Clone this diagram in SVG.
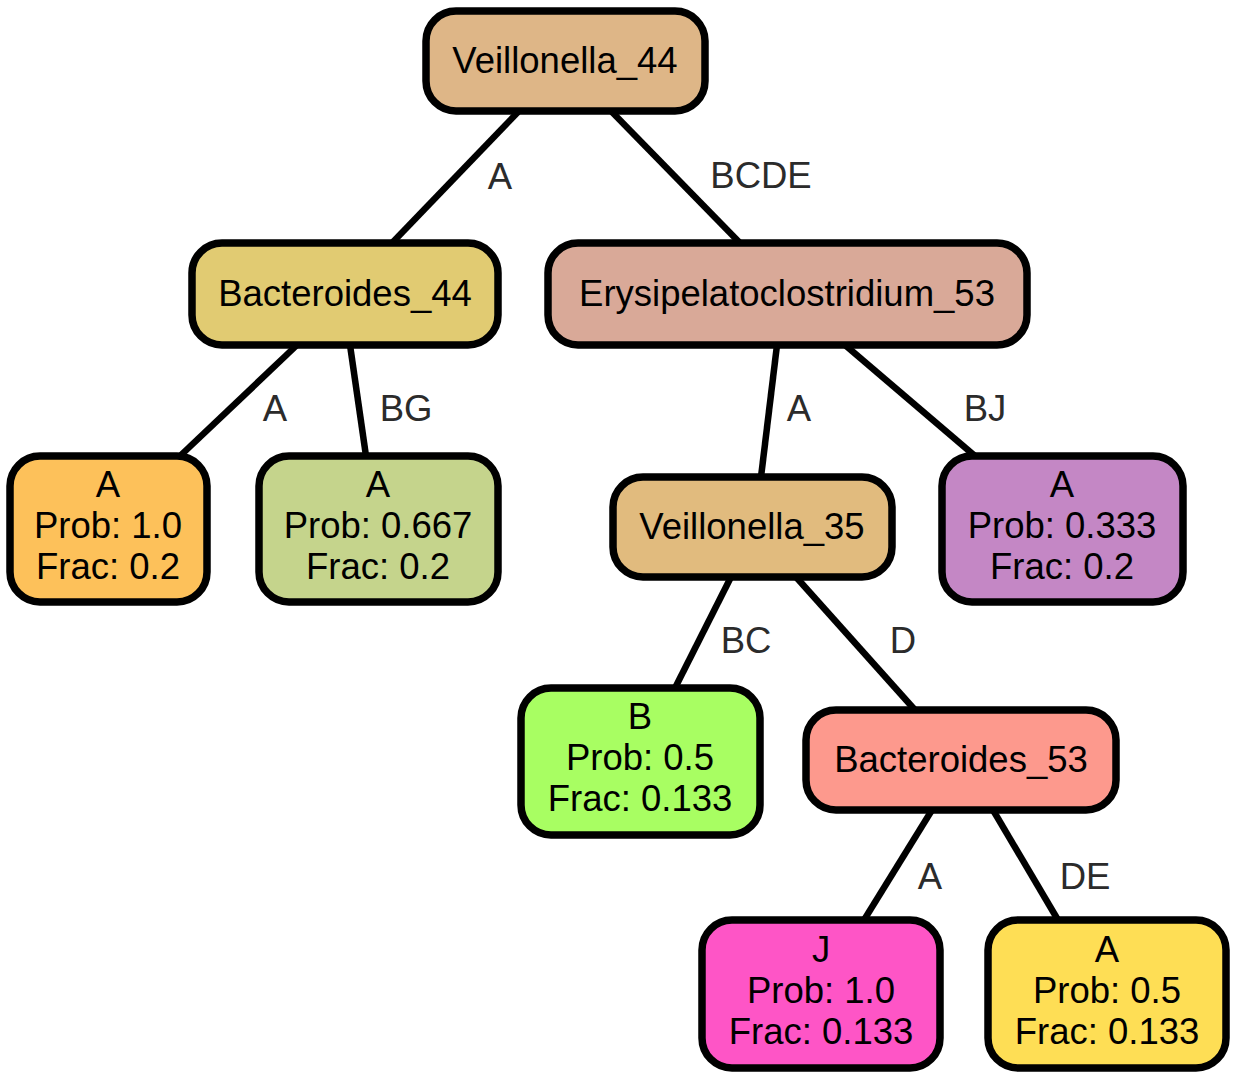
<svg xmlns="http://www.w3.org/2000/svg" width="1236" height="1079" viewBox="0 0 1236 1079">
<style>
.n{stroke:#000;stroke-width:7.5}
.t{font-family:"Liberation Sans",Arial,sans-serif;font-size:36.5px;text-anchor:middle;fill:#000}
.e{stroke:#000;stroke-width:6.5;fill:none}
.l{font-family:"Liberation Sans",Arial,sans-serif;font-size:36.5px;text-anchor:middle;fill:#2b2b2b}
</style>
<rect width="1236" height="1079" fill="#fff"/>
<g id="edges">
<line class="e" x1="518" y1="112" x2="392" y2="243"/>
<text class="l" x="500" y="189">A</text>
<line class="e" x1="612" y1="112" x2="740" y2="243"/>
<text class="l" x="761" y="188">BCDE</text>
<line class="e" x1="297" y1="345" x2="180" y2="456"/>
<text class="l" x="275" y="421">A</text>
<line class="e" x1="350" y1="345" x2="366" y2="456"/>
<text class="l" x="406" y="421">BG</text>
<line class="e" x1="777" y1="345" x2="761" y2="477"/>
<text class="l" x="799" y="421">A</text>
<line class="e" x1="845" y1="345" x2="975" y2="456"/>
<text class="l" x="985" y="421">BJ</text>
<line class="e" x1="731" y1="577" x2="675" y2="688"/>
<text class="l" x="746" y="653">BC</text>
<line class="e" x1="796" y1="577" x2="915" y2="710"/>
<text class="l" x="903" y="653">D</text>
<line class="e" x1="932" y1="810" x2="864" y2="920"/>
<text class="l" x="930" y="889">A</text>
<line class="e" x1="993" y1="810" x2="1058" y2="920"/>
<text class="l" x="1085" y="889">DE</text>
</g>
<g id="veillonella44">
<rect class="n" x="426" y="11" width="279" height="100" rx="30" fill="#DEB687"/>
<text class="t" x="565" y="73">Veillonella_44</text>
</g>
<g id="bacteroides44">
<rect class="n" x="192" y="243" width="306" height="102" rx="30" fill="#E1CB72"/>
<text class="t" x="345" y="306">Bacteroides_44</text>
</g>
<g id="erysipelatoclostridium53">
<rect class="n" x="548" y="243" width="479" height="102" rx="30" fill="#D9A998"/>
<text class="t" x="787" y="306">Erysipelatoclostridium_53</text>
</g>
<g id="leafA1">
<rect class="n" x="10" y="456" width="197" height="146" rx="30" fill="#FDC15A"/>
<text class="t" x="108" y="497">A</text>
<text class="t" x="108" y="538">Prob: 1.0</text>
<text class="t" x="108" y="579">Frac: 0.2</text>
</g>
<g id="leafA2">
<rect class="n" x="259" y="456" width="239" height="146" rx="30" fill="#C5D48C"/>
<text class="t" x="378" y="497">A</text>
<text class="t" x="378" y="538">Prob: 0.667</text>
<text class="t" x="378" y="579">Frac: 0.2</text>
</g>
<g id="veillonella35">
<rect class="n" x="613" y="477" width="279" height="100" rx="30" fill="#E1BB7E"/>
<text class="t" x="752" y="539">Veillonella_35</text>
</g>
<g id="leafA3">
<rect class="n" x="942" y="456" width="241" height="146" rx="30" fill="#C487C5"/>
<text class="t" x="1062" y="497">A</text>
<text class="t" x="1062" y="538">Prob: 0.333</text>
<text class="t" x="1062" y="579">Frac: 0.2</text>
</g>
<g id="leafB">
<rect class="n" x="521" y="688" width="239" height="147" rx="30" fill="#A8FE62"/>
<text class="t" x="640" y="729">B</text>
<text class="t" x="640" y="770">Prob: 0.5</text>
<text class="t" x="640" y="811">Frac: 0.133</text>
</g>
<g id="bacteroides53">
<rect class="n" x="806" y="710" width="310" height="100" rx="30" fill="#FD998D"/>
<text class="t" x="961" y="772">Bacteroides_53</text>
</g>
<g id="leafJ">
<rect class="n" x="702" y="920" width="238" height="148" rx="30" fill="#FE55C6"/>
<text class="t" x="821" y="962">J</text>
<text class="t" x="821" y="1003">Prob: 1.0</text>
<text class="t" x="821" y="1044">Frac: 0.133</text>
</g>
<g id="leafA4">
<rect class="n" x="988" y="920" width="238" height="148" rx="30" fill="#FEDE55"/>
<text class="t" x="1107" y="962">A</text>
<text class="t" x="1107" y="1003">Prob: 0.5</text>
<text class="t" x="1107" y="1044">Frac: 0.133</text>
</g>
</svg>
